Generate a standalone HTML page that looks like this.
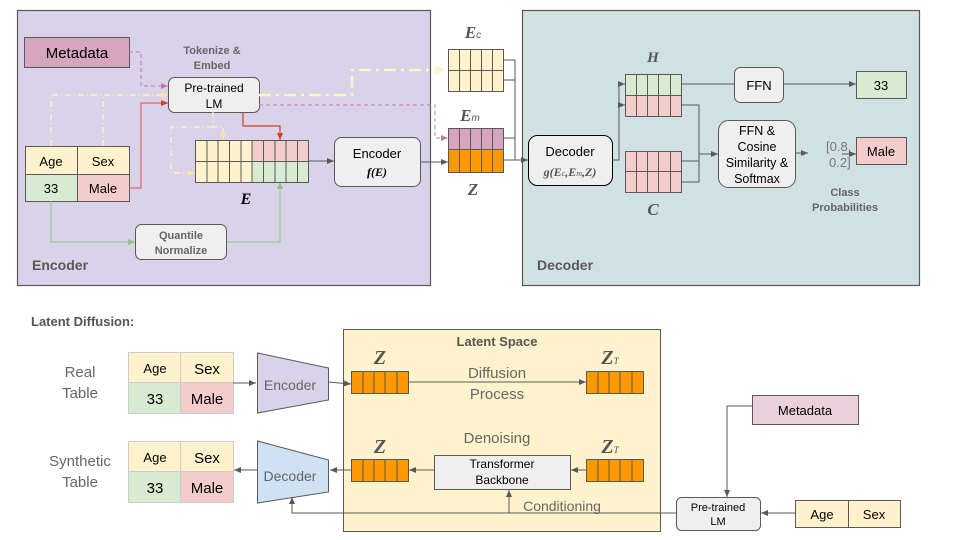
<!DOCTYPE html>
<html><head><meta charset="utf-8"><style>
html,body{margin:0;padding:0;background:#fff;}
svg{display:block;}
text{font-family:"Liberation Sans",sans-serif;}
.s{font-family:"Liberation Serif",serif;font-style:italic;font-weight:bold;fill:#555;}
</style></head><body>
<svg width="960" height="540" viewBox="0 0 960 540" xmlns="http://www.w3.org/2000/svg">
<defs>
<marker id="a" markerWidth="8" markerHeight="8" refX="7" refY="4" orient="auto" markerUnits="userSpaceOnUse"><path d="M0,1 L7,4 L0,7 z" fill="#595959"/></marker>
<marker id="ar" markerWidth="8" markerHeight="8" refX="7" refY="4" orient="auto" markerUnits="userSpaceOnUse"><path d="M0,1 L7,4 L0,7 z" fill="#cc4125"/></marker>
<marker id="ap" markerWidth="8" markerHeight="8" refX="7" refY="4" orient="auto" markerUnits="userSpaceOnUse"><path d="M0,1 L7,4 L0,7 z" fill="#c27ba0"/></marker>
<marker id="ag" markerWidth="8" markerHeight="8" refX="7" refY="4" orient="auto" markerUnits="userSpaceOnUse"><path d="M0,1 L7,4 L0,7 z" fill="#93c47d"/></marker>
<marker id="ay" markerWidth="8" markerHeight="8" refX="7" refY="4" orient="auto" markerUnits="userSpaceOnUse"><path d="M0,1 L7,4 L0,7 z" fill="#ffe599"/></marker>
<marker id="ay2" markerWidth="14" markerHeight="12" refX="12" refY="6" orient="auto" markerUnits="userSpaceOnUse"><path d="M0,0 L12,6 L0,12 L4,6 z" fill="#fff2cc"/></marker>
</defs>

<rect x="17.5" y="10.5" width="413" height="275" fill="#d9d2e9" stroke="#595959" stroke-width="1.2"/>
<rect x="522.5" y="10.5" width="397" height="275" fill="#d0e0e3" stroke="#595959" stroke-width="1.2"/>
<text x="32" y="270" font-size="14" font-weight="bold" fill="#595959">Encoder</text>
<text x="537" y="270" font-size="14" font-weight="bold" fill="#595959">Decoder</text>

<rect x="24.5" y="37.5" width="105" height="30" fill="#d5a6bd" stroke="#595959"/>
<text x="77" y="58" font-size="15" text-anchor="middle" fill="#000">Metadata</text>
<text x="212" y="54" font-size="11" font-weight="bold" text-anchor="middle" fill="#666">Tokenize &amp;</text>
<text x="212" y="69" font-size="11" font-weight="bold" text-anchor="middle" fill="#666">Embed</text>
<rect x="168.5" y="77.5" width="91" height="35" rx="6" fill="#efefef" stroke="#595959"/>
<text x="214" y="92" font-size="12" text-anchor="middle">Pre-trained</text>
<text x="214" y="108" font-size="12" text-anchor="middle">LM</text>

<rect x="25.5" y="146.5" width="52" height="28" fill="#fff2cc" stroke="#595959"/>
<rect x="77.5" y="146.5" width="52" height="28" fill="#fff2cc" stroke="#595959"/>
<rect x="25.5" y="174.5" width="52" height="27" fill="#d9ead3" stroke="#595959"/>
<rect x="77.5" y="174.5" width="52" height="27" fill="#f4cccc" stroke="#595959"/>
<text x="51" y="166" font-size="13" text-anchor="middle">Age</text>
<text x="103" y="166" font-size="13" text-anchor="middle">Sex</text>
<text x="51" y="193" font-size="13" text-anchor="middle">33</text>
<text x="103" y="193" font-size="13" text-anchor="middle">Male</text>

<path d="M129,52 H141 V86 H168" fill="none" stroke="#c27ba0" stroke-dasharray="4,3" marker-end="url(#ap)"/>
<path d="M103,146 V95 M51,146 V95 H168" fill="none" stroke="#fff2cc" stroke-width="1.2" stroke-dasharray="6,3,1,3" marker-end="url(#ay)"/>
<path d="M129,188 H141 V103 H168" fill="none" stroke="#e06666" stroke-width="1.2" marker-end="url(#ar)"/>
<path d="M259,95 H352 V70 H445" fill="none" stroke="#fff2cc" stroke-width="2.5" stroke-dasharray="12,5,3,5" marker-end="url(#ay2)"/>
<path d="M259,105 H435 V138 H448" fill="none" stroke="#c27ba0" stroke-dasharray="4,3" marker-end="url(#ap)"/>
<path d="M213,127 H171 V173 H195" fill="none" stroke="#fff2cc" stroke-width="1.2" stroke-dasharray="6,3,1,3" marker-end="url(#ay)"/>
<path d="M213,112 V127 H223 V140" fill="none" stroke="#fff2cc" stroke-width="1.2" stroke-dasharray="6,3,1,3" marker-end="url(#ay)"/>
<path d="M243,112 V126 H280 V140" fill="none" stroke="#cc4125" stroke-width="1.2" marker-end="url(#ar)"/>
<path d="M51,201 V242 H135" fill="none" stroke="#93c47d" marker-end="url(#ag)"/>
<path d="M226,242 H280 V182" fill="none" stroke="#93c47d" marker-end="url(#ag)"/>
<path d="M308,161 H334" fill="none" stroke="#595959" marker-end="url(#a)"/>
<path d="M420,162 H448" fill="none" stroke="#595959" marker-end="url(#a)"/>

<g stroke="#595959" stroke-width="1">
<rect x="195.5" y="140.5" width="56.5" height="42" fill="#fff2cc"/>
<rect x="252" y="140.5" width="56.5" height="21" fill="#f4cccc"/>
<rect x="252" y="161.5" width="56.5" height="21" fill="#d9ead3"/>
<path d="M195.5,161.5 H308.5 M207,140.5 V182.5 M218,140.5 V182.5 M229.5,140.5 V182.5 M241,140.5 V182.5 M252,140.5 V182.5 M263.5,140.5 V182.5 M275,140.5 V182.5 M286,140.5 V182.5 M297.5,140.5 V182.5" fill="none"/>
</g>
<text x="246" y="204" font-size="16" class="s" text-anchor="middle" style="fill:#000">E</text>

<rect x="334.5" y="137.5" width="86" height="49" rx="7" fill="#efefef" stroke="#595959"/>
<text x="377" y="158" font-size="13" text-anchor="middle">Encoder</text>
<text x="377" y="176" font-size="12" text-anchor="middle" class="s" style="fill:#000">f(E)</text>

<rect x="135.5" y="224.5" width="91" height="35" rx="6" fill="#efefef" stroke="#595959"/>
<text x="181" y="239" font-size="11" font-weight="bold" text-anchor="middle" fill="#666">Quantile</text>
<text x="181" y="254" font-size="11" font-weight="bold" text-anchor="middle" fill="#666">Normalize</text>

<text x="473" y="38" font-size="17" class="s" text-anchor="middle">E<tspan font-size="10" font-weight="normal" font-family="Liberation Sans" font-style="italic">c</tspan></text>
<g stroke="#595959">
<rect x="448.5" y="49.5" width="55" height="42" fill="#fff2cc"/>
<path d="M448.5,70.5 H503.5 M459.5,49.5 V91.5 M470.5,49.5 V91.5 M481.5,49.5 V91.5 M492.5,49.5 V91.5" fill="none"/>
<rect x="448.5" y="128.5" width="55" height="21" fill="#d5a6bd"/>
<rect x="448.5" y="149.5" width="55" height="23" fill="#ff9900"/>
<path d="M459.5,128.5 V172.5 M470.5,128.5 V172.5 M481.5,128.5 V172.5 M492.5,128.5 V172.5" fill="none"/>
</g>
<text x="470" y="121" font-size="17" class="s" text-anchor="middle">E<tspan font-size="10" font-weight="normal" font-family="Liberation Sans" font-style="italic">m</tspan></text>
<text x="473" y="195" font-size="17" class="s" text-anchor="middle">Z</text>
<path d="M503,60 H515 V160 M503,80 H515 M503,138 H515 M503,160 H528" fill="none" stroke="#595959" marker-end="url(#a)"/>

<rect x="528.5" y="135.5" width="84" height="50" rx="9" fill="#efefef" stroke="#000"/>
<text x="570" y="156" font-size="13" text-anchor="middle">Decoder</text>
<text x="570" y="176" font-size="12" class="s" text-anchor="middle">g(<tspan>E</tspan><tspan font-size="8" font-weight="normal">c</tspan>,E<tspan font-size="8" font-weight="normal">m</tspan>,Z)</text>
<path d="M612,160 H619 V84 H625" fill="none" stroke="#595959" marker-end="url(#a)"/>
<path d="M619,105 H625" fill="none" stroke="#595959" marker-end="url(#a)"/>

<text x="653" y="62" font-size="15" class="s" text-anchor="middle">H</text>
<g stroke="#595959">
<rect x="625.5" y="74.5" width="56" height="21" fill="#d9ead3"/>
<rect x="625.5" y="95.5" width="56" height="21" fill="#f4cccc"/>
<path d="M636.5,74.5 V116.5 M647.5,74.5 V116.5 M658.5,74.5 V116.5 M670.5,74.5 V116.5" fill="none"/>
<rect x="625.5" y="151.5" width="56" height="41" fill="#f4cccc"/>
<path d="M625.5,171.5 H681.5 M636.5,151.5 V192.5 M647.5,151.5 V192.5 M658.5,151.5 V192.5 M670.5,151.5 V192.5" fill="none"/>
</g>
<text x="653" y="215" font-size="17" class="s" text-anchor="middle">C</text>

<path d="M681,84 H734 M783,84 H856" fill="none" stroke="#595959" marker-end="url(#a)"/>
<path d="M681,105 H699 V182 H681 M681,161 H699 M699,154 H718" fill="none" stroke="#595959" marker-end="url(#a)"/>
<rect x="734.5" y="67.5" width="49" height="35" rx="6" fill="#efefef" stroke="#595959"/>
<text x="759" y="90" font-size="13" text-anchor="middle">FFN</text>
<rect x="856.5" y="71.5" width="50" height="27" fill="#d9ead3" stroke="#595959"/>
<text x="881" y="90" font-size="13" text-anchor="middle">33</text>
<rect x="718.5" y="120.5" width="77" height="67" rx="10" fill="#efefef" stroke="#595959"/>
<text x="757" y="135" font-size="12.5" text-anchor="middle">FFN &amp;</text>
<text x="757" y="151" font-size="12.5" text-anchor="middle">Cosine</text>
<text x="757" y="167" font-size="12.5" text-anchor="middle">Similarity &amp;</text>
<text x="757" y="183" font-size="12.5" text-anchor="middle">Softmax</text>
<path d="M795,153 H808" fill="none" stroke="#595959" marker-end="url(#a)"/>
<text x="826" y="151" font-size="13" fill="#777">[0.8,</text>
<text x="829" y="167" font-size="13" fill="#777">0.2]</text>
<path d="M842,154 H856" fill="none" stroke="#595959" marker-end="url(#a)"/>
<rect x="856.5" y="137.5" width="50" height="27" fill="#f4cccc" stroke="#595959"/>
<text x="881" y="156" font-size="13" text-anchor="middle">Male</text>
<text x="845" y="196" font-size="11" font-weight="bold" text-anchor="middle" fill="#666">Class</text>
<text x="845" y="211" font-size="11" font-weight="bold" text-anchor="middle" fill="#666">Probabilities</text>

<text x="31" y="326" font-size="13" font-weight="bold" fill="#555">Latent Diffusion:</text>
<rect x="343.5" y="329.5" width="317" height="202" fill="#fff2cc" stroke="#595959"/>
<text x="497" y="346" font-size="13" font-weight="bold" text-anchor="middle" fill="#555">Latent Space</text>

<text x="80" y="377" font-size="15" text-anchor="middle" fill="#666">Real</text>
<text x="80" y="398" font-size="15" text-anchor="middle" fill="#666">Table</text>
<text x="80" y="466" font-size="15" text-anchor="middle" fill="#666">Synthetic</text>
<text x="80" y="487" font-size="15" text-anchor="middle" fill="#666">Table</text>

<g stroke="#cccccc">
<rect x="128.5" y="352.5" width="52" height="30" fill="#fff2cc"/>
<rect x="180.5" y="352.5" width="53" height="30" fill="#fff2cc"/>
<rect x="128.5" y="382.5" width="52" height="31" fill="#d9ead3"/>
<rect x="180.5" y="382.5" width="53" height="31" fill="#f4cccc"/>
<rect x="128.5" y="441.5" width="52" height="30" fill="#fff2cc"/>
<rect x="180.5" y="441.5" width="53" height="30" fill="#fff2cc"/>
<rect x="128.5" y="471.5" width="52" height="31" fill="#d9ead3"/>
<rect x="180.5" y="471.5" width="53" height="31" fill="#f4cccc"/>
</g>
<text x="155" y="373" font-size="13" text-anchor="middle">Age</text>
<text x="207" y="374" font-size="15" text-anchor="middle">Sex</text>
<text x="155" y="404" font-size="15" text-anchor="middle">33</text>
<text x="207" y="404" font-size="15" text-anchor="middle">Male</text>
<text x="155" y="462" font-size="13" text-anchor="middle">Age</text>
<text x="207" y="463" font-size="15" text-anchor="middle">Sex</text>
<text x="155" y="493" font-size="15" text-anchor="middle">33</text>
<text x="207" y="493" font-size="15" text-anchor="middle">Male</text>

<path d="M257.5,353 L328.5,368 L328.5,400 L257.5,413 Z" fill="#d9d2e9" stroke="#595959"/>
<text x="290" y="390" font-size="14" text-anchor="middle" fill="#666">Encoder</text>
<path d="M257.5,441 L328.5,460 L328.5,492 L257.5,503 Z" fill="#cfe2f3" stroke="#595959"/>
<text x="290" y="481" font-size="14" text-anchor="middle" fill="#666">Decoder</text>

<path d="M233,383 H256" fill="none" stroke="#595959" marker-end="url(#a)"/>
<path d="M328,382 L351,384" fill="none" stroke="#595959" marker-end="url(#a)"/>
<path d="M408,382 H586" fill="none" stroke="#595959" marker-end="url(#a)"/>
<path d="M586,470 H571" fill="none" stroke="#595959" marker-end="url(#a)"/>
<path d="M434,470 H409" fill="none" stroke="#595959" marker-end="url(#a)"/>
<path d="M351,470 H330" fill="none" stroke="#595959" marker-end="url(#a)"/>
<path d="M257,470 H234" fill="none" stroke="#595959" marker-end="url(#a)"/>

<g stroke="#595959">
<rect x="351.5" y="371.5" width="57" height="22" fill="#ff9900"/>
<path d="M363,371.5 V393.5 M374,371.5 V393.5 M385,371.5 V393.5 M397,371.5 V393.5" fill="none"/>
<rect x="586.5" y="371.5" width="57" height="22" fill="#ff9900"/>
<path d="M598,371.5 V393.5 M609,371.5 V393.5 M620,371.5 V393.5 M632,371.5 V393.5" fill="none"/>
<rect x="351.5" y="459.5" width="57" height="22" fill="#ff9900"/>
<path d="M363,459.5 V481.5 M374,459.5 V481.5 M385,459.5 V481.5 M397,459.5 V481.5" fill="none"/>
<rect x="586.5" y="459.5" width="57" height="22" fill="#ff9900"/>
<path d="M598,459.5 V481.5 M609,459.5 V481.5 M620,459.5 V481.5 M632,459.5 V481.5" fill="none"/>
</g>
<text x="380" y="364" font-size="20" class="s" text-anchor="middle">Z</text>
<text x="610" y="364" font-size="20" class="s" text-anchor="middle">Z<tspan font-size="9" font-weight="normal">T</tspan></text>
<text x="380" y="453" font-size="20" class="s" text-anchor="middle">Z</text>
<text x="610" y="453" font-size="20" class="s" text-anchor="middle">Z<tspan font-size="9" font-weight="normal">T</tspan></text>
<text x="497" y="378" font-size="15" text-anchor="middle" fill="#666">Diffusion</text>
<text x="497" y="399" font-size="15" text-anchor="middle" fill="#666">Process</text>
<text x="497" y="443" font-size="15" text-anchor="middle" fill="#666">Denoising</text>
<rect x="434.5" y="455.5" width="136" height="34" fill="#efefef" stroke="#595959"/>
<text x="502" y="468" font-size="12" text-anchor="middle">Transformer</text>
<text x="502" y="484" font-size="12" text-anchor="middle">Backbone</text>
<text x="562" y="511" font-size="14" text-anchor="middle" fill="#666">Conditioning</text>
<path d="M676,513 H292 V497" fill="none" stroke="#595959" marker-end="url(#a)"/>
<path d="M509,513 V490" fill="none" stroke="#595959" marker-end="url(#a)"/>

<rect x="752.5" y="395.5" width="106" height="29" fill="#ead1dc" stroke="#595959"/>
<text x="805" y="415" font-size="13" text-anchor="middle">Metadata</text>
<path d="M752,406 H727 V497" fill="none" stroke="#595959" marker-end="url(#a)"/>
<rect x="676.5" y="497.5" width="84" height="33" rx="5" fill="#efefef" stroke="#595959"/>
<text x="718" y="511" font-size="11" text-anchor="middle">Pre-trained</text>
<text x="718" y="525" font-size="11" text-anchor="middle">LM</text>
<path d="M795,513 H761" fill="none" stroke="#595959" marker-end="url(#a)"/>
<rect x="795.5" y="500.5" width="53" height="27" fill="#fff2cc" stroke="#595959"/>
<rect x="848.5" y="500.5" width="52" height="27" fill="#fff2cc" stroke="#595959"/>
<text x="822" y="519" font-size="13" text-anchor="middle">Age</text>
<text x="874" y="519" font-size="13" text-anchor="middle">Sex</text>
</svg>
</body></html>
